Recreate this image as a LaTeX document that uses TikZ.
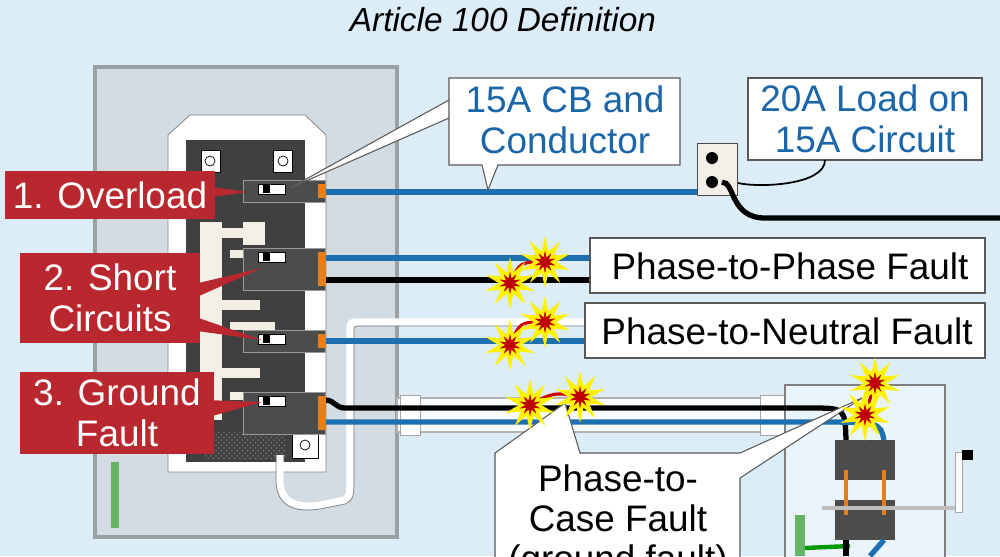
\documentclass[tikz,border=0pt]{standalone}
\usepackage{fontspec}
\setmainfont{Liberation Sans}
\usetikzlibrary{shapes.geometric,patterns}
\definecolor{sky}{HTML}{DCEDF8}
\definecolor{panelgray}{HTML}{D3DCE3}
\definecolor{labelred}{HTML}{B8282E}
\definecolor{wireblue}{HTML}{1D6FB0}
\definecolor{textblue}{HTML}{1A66A8}
\definecolor{cream}{HTML}{F3EEE6}
\tikzset{
  callout/.style={draw=gray!70!black, fill=white, line width=0.6pt},
  redlabel/.style={fill=labelred, text=white, font=\fontsize{21}{23}\selectfont, align=center},
  boxtext/.style={font=\fontsize{21}{23}\selectfont, align=center},
  breaker/.style={fill=black!70, draw=black!40, line width=0.4pt},
  bluewire/.style={line width=3pt, wireblue},
  blackwire/.style={line width=3pt, black},
  spark/.style={star, star points=10, star point ratio=2.3, fill=red!75!black, draw=yellow, line width=1.8pt, minimum size=0.75cm, inner sep=0pt},
  arc/.style={red!80!black, line width=1.8pt}
}
\begin{document}
\begin{tikzpicture}[x=0.02cm, y=-0.02cm]
    \useasboundingbox (0,0) rectangle (1000,556);
    \fill[sky] (0,0) rectangle (1000,556);
    \node[font=\fontsize{19}{21}\selectfont\itshape] (title) at (503,20) {Article 100 Definition};

    % Panel
    \draw[fill=panelgray, draw=gray!70!sky, line width=2pt] (95,67) rectangle (397,537);
    \draw[fill=white, draw=gray] (168,135) -- (190,115) -- (305,115) -- (326,135) -- (326,472) -- (168,472) -- cycle;
    \fill[black!75] (186,140) rectangle (305,462);
    \draw[fill=white] (201,150) rectangle (220,172);
    \draw (210,161) circle (5);
    \draw[fill=white] (273,150) rectangle (292,172);
    \draw (283,161) circle (5);
    % bus fingers
    \fill[cream] (200,222) rectangle (222,420);
    \foreach \y in {228,300,368} {
        \fill[cream] (222,\y) rectangle (260,\y+10);
    }
    \foreach \y in {250,322,392} {
        \fill[cream] (230,\y) rectangle (275,\y+8);
    }
    \fill[cream] (243,222) rectangle (265,245);
    % neutral bar
    \fill[pattern=crosshatch dots, pattern color=gray] (205,432) rectangle (285,458);
    \draw[fill=white] (292,433) rectangle (318,458);
    \draw (305,445) circle (5);
    % green ground bar
    \fill[green!50!black!60] (111,462) rectangle (119,528);

    % white cable loop
    \draw[white, line width=4pt] (280,455) -- (280,480) .. controls (280,505) and (300,508) .. (320,505) -- (345,500) .. controls (350,495) .. (350,470) -- (350,330) .. controls (350,322) .. (360,322) -- (590,322);
    \draw[gray, line width=0.4pt] (276,455) -- (276,480) .. controls (276,510) and (300,512) .. (320,509) -- (345,504) .. controls (354,499) .. (354,470) -- (354,333) .. controls (354,326) .. (362,326) -- (590,326);

    % raceway to disconnect
    \draw[gray!60, fill=white!80!sky, line width=0.6pt] (397,398) rectangle (790,432);
    \draw[gray!70, fill=white] (400,395) rectangle (420,435);
    \draw[gray!70, fill=white] (760,395) rectangle (792,435);

    % disconnect
    \draw[fill=sky!60!white, draw=gray, line width=1.5pt] (785,385) rectangle (945,560);
    \fill[black!70] (835,440) rectangle (895,480);
    \fill[black!70] (835,500) rectangle (895,540);
    \draw[orange!60!brown, line width=2.5pt] (846,470) -- (846,515) (884,470) -- (884,515);
    \draw[gray!50, line width=2pt] (822,508) -- (960,508);
    \draw[gray!70, fill=white] (955,452) rectangle (962,512);
    \fill[black] (962,450) rectangle (973,460);
    \fill[green!50!black!60] (795,515) rectangle (805,556);
    \draw[green!60!black, line width=2.5pt] (805,548) -- (850,546);

    % wires
    \draw[bluewire] (325,192) -- (700,192);
    \draw[bluewire] (325,258) -- (590,258);
    \draw[blackwire] (325,280) -- (590,280);
    \draw[bluewire] (325,341) -- (590,341);
    \draw[blackwire] (325,400) .. controls (335,400) and (335,408) .. (345,408) -- (810,408) .. controls (845,408) .. (846,440);
    \draw[bluewire] (325,422) -- (810,422) .. controls (880,422) .. (884,440);
    \draw[blackwire] (846,540) -- (846,556);
    \draw[bluewire] (884,540) -- (870,556);

    % breakers
    \foreach \y/\h in {180/22, 248/42, 330/22, 392/42} {
        \draw[breaker] (243,\y) rectangle (325,\y+\h);
        \draw[fill=white] (258,\y+4) rectangle (285,\y+14);
        \fill[black] (263,\y+5) rectangle (270,\y+13);
        \fill[orange!60!brown] (318,\y+4) rectangle (326,\y+\h-4);
    }

    % outlet and cord
    \draw[fill=cream, draw=gray!60!black] (697,143) rectangle (737,195);
    \fill[black] (712,158) circle (6) (712,182) circle (6);
    \draw[line width=3pt] (722,182) .. controls (735,182) and (730,218) .. (765,218) -- (1000,218);

    % red labels
    \fill[labelred] (205,186) -- (248,192) -- (205,198) -- cycle;
    \node[redlabel, minimum width=4.2cm, minimum height=0.95cm] (overload) at (110,195) {1. Overload};
    \fill[labelred] (190,285) -- (262,268) -- (190,300) -- cycle;
    \fill[labelred] (190,315) -- (262,340) -- (190,330) -- cycle;
    \node[redlabel, minimum width=3.6cm, minimum height=1.8cm] (short) at (110,298) {2. Short\\Circuits};
    \fill[labelred] (205,400) -- (262,402) -- (205,418) -- cycle;
    \node[redlabel, minimum width=3.9cm, minimum height=1.65cm] (ground) at (117,413) {3. Ground\\Fault};

    % callouts
    \draw[callout] (449,100) -- (290,188) -- (449,118) -- (449,78) -- (680,78) -- (680,165) -- (498,165) -- (488,190) -- (482,165) -- (449,165) -- cycle;
    \node[boxtext, text=textblue] (cb) at (565,120) {15A CB and\\Conductor};
    \draw[callout] (748,78) rectangle (982,160);
    \node[boxtext, text=textblue] (load) at (865,119) {20A Load on\\15A Circuit};
    \draw[line width=1pt] (825,160) .. controls (825,185) and (760,188) .. (738,183);
    \draw[callout] (590,238) rectangle (985,293);
    \node[boxtext] (pp) at (790,266) {Phase-to-Phase Fault};
    \draw[callout] (585,303) rectangle (985,358);
    \node[boxtext] (pn) at (787,331) {Phase-to-Neutral Fault};
    \draw[callout] (495,453) -- (565,403) -- (580,453) -- (740,453) -- (862,398) -- (740,478) -- (740,560) -- (495,560) -- cycle;
    \node[boxtext] (pc) at (618,522) {Phase-to-\\Case Fault\\(ground fault)};

    % sparks
    \draw[arc] (510,283) .. controls (520,262) .. (545,262);
    \draw[arc] (510,345) .. controls (520,322) .. (545,322);
    \draw[arc] (528,405) .. controls (555,392) .. (580,397);
    \draw[arc] (865,415) -- (875,383);
    \foreach \p/\q in {545/262, 510/283, 545/322, 510/345, 530/405, 580/397, 875/383, 865/415} {
        \node[spark] at (\p,\q) {};
    }
\end{tikzpicture}
\end{document}
